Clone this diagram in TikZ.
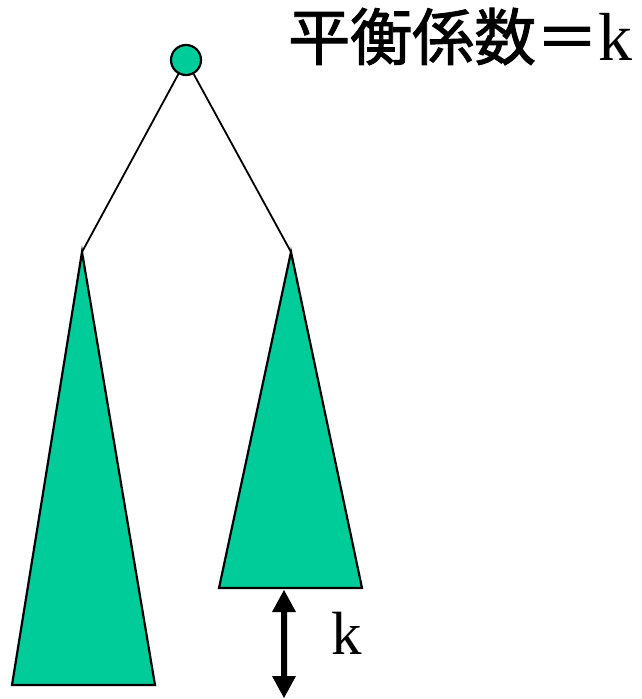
\documentclass[tikz,border=0pt]{standalone}
\usepackage{fontspec}
\setmainfont{Liberation Serif}
\newfontfamily\cjk[FakeBold=1.5]{Noto Sans CJK JP}
\definecolor{tealfill}{RGB}{0,204,153}
\begin{document}
\begin{tikzpicture}[x=1pt,y=-1pt,
  treetri/.style={fill=tealfill,draw=black,line width=2.2pt,line join=miter},
  edge/.style={draw=black,line width=1.8pt}]
\useasboundingbox (0,0) rectangle (642,699);
% root
\node[circle,fill=tealfill,draw=black,line width=2.2pt,minimum size=30pt,inner sep=0pt] (root) at (186,60) {};
\coordinate (la) at (82,252);
\coordinate (ra) at (291,252);
\draw[edge] (root) -- (la);
\draw[edge] (root) -- (ra);
% subtrees
\draw[treetri] (la) -- (155,685) -- (12,685) -- cycle;
\draw[treetri] (ra) -- (362,588) -- (219,588) -- cycle;
% double arrow
\fill[black] (284,590) -- (296,612) -- (287,612) -- (287,676) -- (296,676) -- (284,698)
  -- (272,676) -- (281,676) -- (281,612) -- (272,612) -- cycle;
\node[anchor=base west,inner sep=0pt,font=\fontsize{61}{61}\selectfont] (klabel) at (331,654) {k};
% title
\node[anchor=base west,inner sep=0pt] (title) at (288,60)
  {\fontsize{62}{62}\selectfont\cjk 平衡係数＝\fontsize{68}{68}\selectfont\rmfamily k};
\end{tikzpicture}
\end{document}
